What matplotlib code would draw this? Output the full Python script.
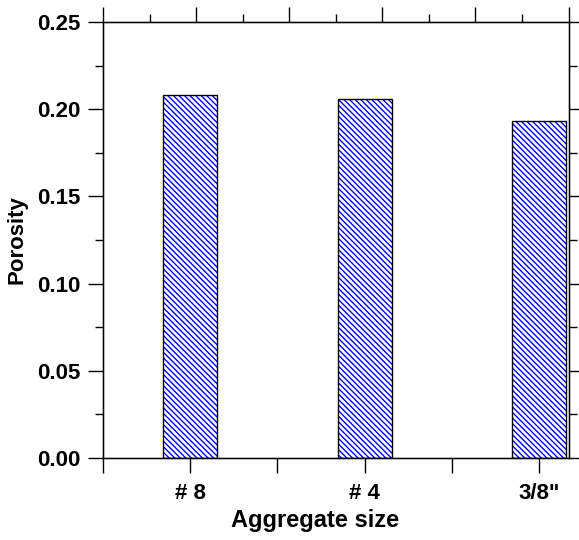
import matplotlib
matplotlib.use("Agg")
import matplotlib.pyplot as plt
import numpy as np

sizes = ["# 8", "# 4", "3/8\""]
porosity = [0.208, 0.206, 0.193]
y_ticks = [0.00, 0.05, 0.10, 0.15, 0.20, 0.25]


def main():
    plt.rcParams['font.family'] = ['Liberation Sans', 'DejaVu Sans']
    plt.rcParams['font.weight'] = 'bold'
    plt.rcParams['hatch.linewidth'] = 1.0

    fig = plt.figure(figsize=(5.79, 5.40), dpi=100)
    ax = fig.add_axes([0.178, 0.152, 0.804, 0.807])

    x = np.arange(1, len(sizes) + 1)
    # hatch in blue, outline in black
    ax.bar(x, porosity, width=0.31, color="white", edgecolor="blue",
           hatch="\\" * 6, linewidth=0)
    ax.bar(x, porosity, width=0.31, fill=False, edgecolor="black", linewidth=1.0)

    ax.set_xlim(0.5, 3.17)
    ax.set_ylim(0, 0.25)
    ax.set_xticks(x)
    ax.set_xticklabels(sizes, fontsize=16, fontweight='bold')
    ax.set_xticks([0.5, 1.5, 2.5], minor=True)
    ax.set_yticks(y_ticks)
    ax.set_yticklabels([f"{v:.2f}" for v in y_ticks], fontsize=16, fontweight='bold')
    ax.set_yticks(np.arange(0.025, 0.25, 0.05), minor=True)

    ax.tick_params(axis='x', which='both', direction='out', length=11, width=1, pad=7)
    ax.tick_params(axis='y', which='major', direction='out', length=11, width=1, pad=5)
    ax.tick_params(axis='y', which='minor', direction='out', length=6, width=1)

    for sp in ax.spines.values():
        sp.set_linewidth(1.0)

    # top axis ticks
    top = ax.twiny()
    top.set_xlim(0, 5)
    top.set_xticks(range(6))
    top.set_xticks(np.arange(0.5, 5, 1), minor=True)
    top.tick_params(axis='x', which='major', direction='out', length=11, width=1, labeltop=False)
    top.tick_params(axis='x', which='minor', direction='out', length=6, width=1)

    # right axis ticks
    right = ax.twinx()
    right.set_ylim(0, 0.25)
    right.set_yticks(y_ticks)
    right.set_yticks(np.arange(0.025, 0.25, 0.05), minor=True)
    right.tick_params(axis='y', which='major', direction='out', length=11, width=1, labelright=False)
    right.tick_params(axis='y', which='minor', direction='out', length=6, width=1)

    ax.set_ylabel("Porosity", fontsize=16, fontweight='bold')
    ax.yaxis.set_label_coords(-0.163, 0.5)
    fig.text(0.545, 0.037, "Aggregate size", fontsize=17, fontweight='bold',
             ha='center', va='center')

    plt.savefig("out.png", dpi=100)


if __name__ == "__main__":
    main()
